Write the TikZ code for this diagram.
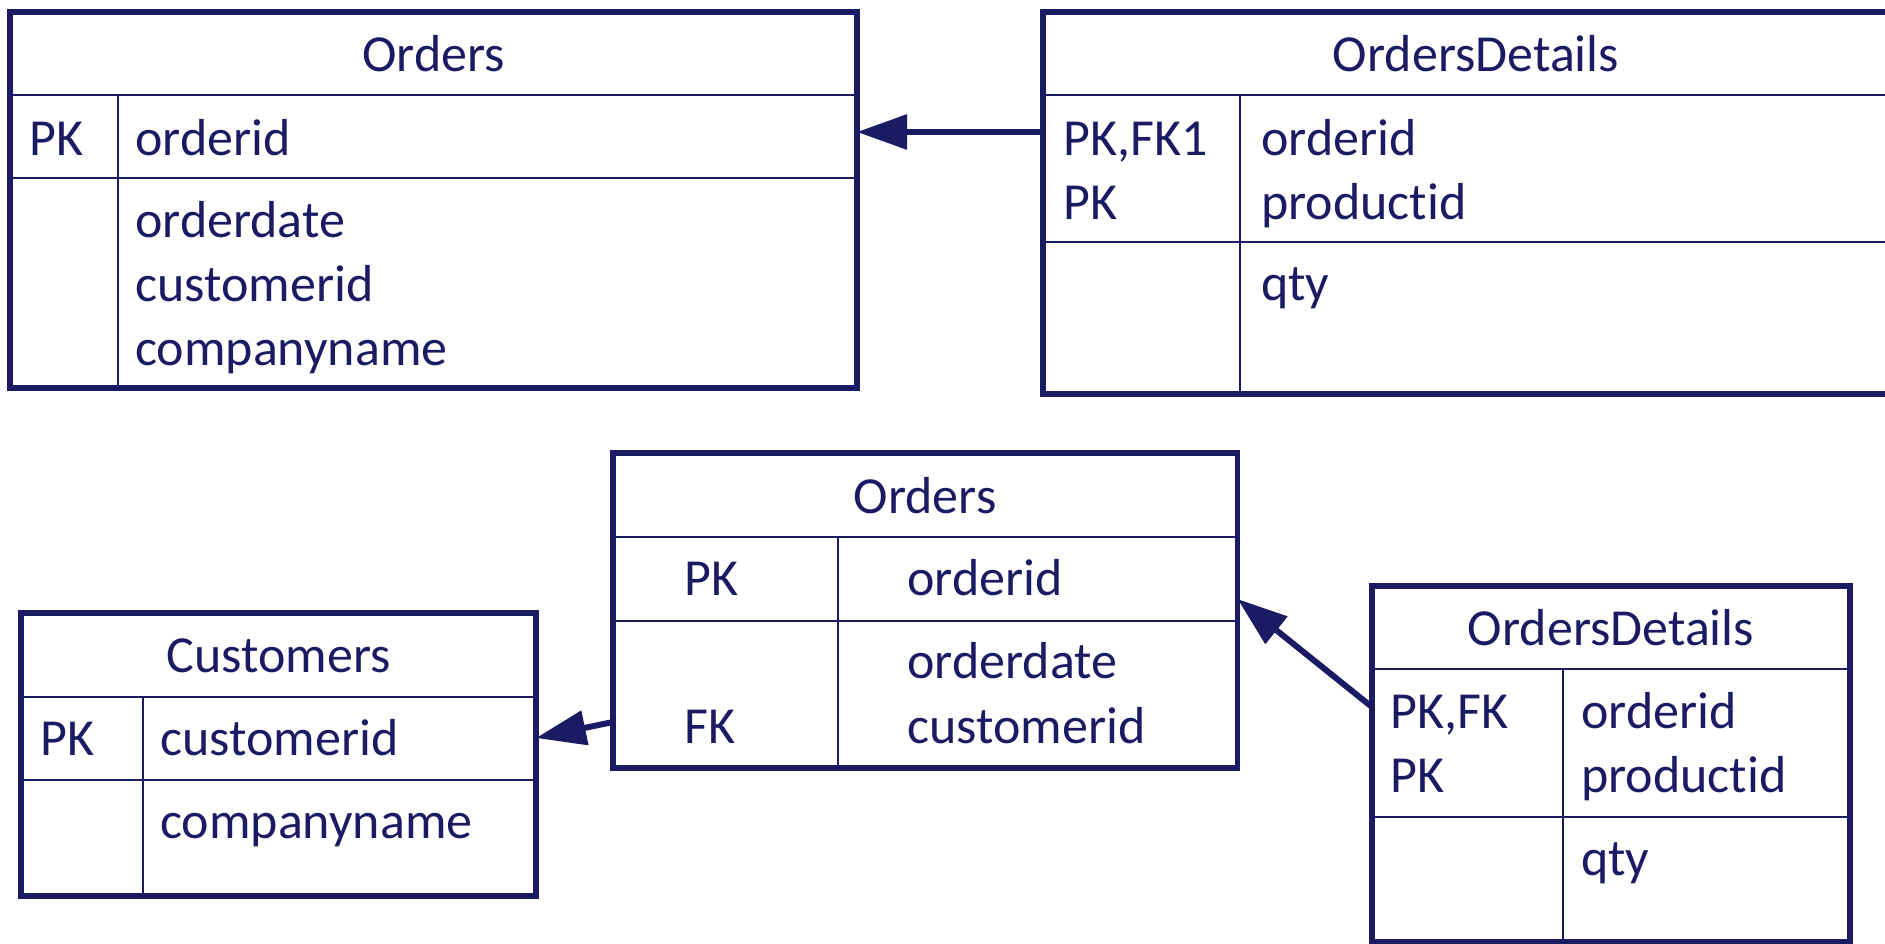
\documentclass[tikz,border=0pt]{standalone}
\usepackage{fontspec}
\setmainfont{Carlito}[Ligatures=NoCommon]
\usetikzlibrary{arrows.meta}
\definecolor{navy}{RGB}{27,27,100}
\tikzset{
entity/.style={draw=navy, line width=5.5pt, inner sep=0pt, outer sep=0pt, anchor=north west}, % outer frame of a table
divider/.style={draw=navy, line width=2.5pt}, % thin lines inside a table
heading/.style={text=navy, inner sep=0pt, anchor=base, font=\fontsize{52}{64}\selectfont}, % table name
field/.style={text=navy, inner sep=0pt, anchor=base west, font=\fontsize{52}{64}\selectfont}, % keys and columns
fk/.style={draw=navy, line width=6pt, -{Triangle[length=50pt, width=34pt]}}, % foreign key reference
}

\begin{document}
\begin{tikzpicture}[x=1pt, y=-1pt]
\useasboundingbox (0, 0) rectangle (1885, 943);

% top: Orders
\node[entity, minimum width=847pt, minimum height=376pt] at (10, 12) (ordA) {};
\draw[divider] (10, 95) -- (857, 95);
\draw[divider] (10, 178) -- (857, 178);
\draw[divider] (118, 95) -- (118, 388);
\node[heading] at (433.5, 71) (ordA-t) {Orders};
\node[field] at (29, 155) (ordA-k1) {PK};
\node[field] at (135, 155) (ordA-f1) {orderid};
\node[field] at (135, 237) (ordA-f2) {orderdate};
\node[field] at (135, 301) (ordA-f3) {customerid};
\node[field] at (135, 365) (ordA-f4) {companyname};

% top: OrdersDetails
\node[entity, minimum width=866pt, minimum height=382pt] at (1043, 12) (detB) {};
\draw[divider] (1043, 95) -- (1909, 95);
\draw[divider] (1043, 242) -- (1909, 242);
\draw[divider] (1240, 95) -- (1240, 394);
\node[heading] at (1476, 71) (detB-t) {OrdersDetails};
\node[field] at (1063, 155) (detB-k1) {PK,FK1};
\node[field] at (1063, 219) (detB-k2) {PK};
\node[field] at (1261, 155) (detB-f1) {orderid};
\node[field] at (1261, 219) (detB-f2) {productid};
\node[field] at (1261, 300) (detB-f3) {qty};

% bottom: Orders
\node[entity, minimum width=624.5pt, minimum height=315pt] at (613, 453) (ordC) {};
\draw[divider] (613, 537) -- (1237.5, 537);
\draw[divider] (613, 621) -- (1237.5, 621);
\draw[divider] (838, 537) -- (838, 768);
\node[heading] at (925, 513) (ordC-t) {Orders};
\node[field] at (684, 595) (ordC-k1) {PK};
\node[field] at (684, 743) (ordC-k2) {FK};
\node[field] at (907, 595) (ordC-f1) {orderid};
\node[field] at (907, 678) (ordC-f2) {orderdate};
\node[field] at (907, 743) (ordC-f3) {customerid};

% bottom: Customers
\node[entity, minimum width=515pt, minimum height=283pt] at (21, 613) (custD) {};
\draw[divider] (21, 697) -- (536, 697);
\draw[divider] (21, 780) -- (536, 780);
\draw[divider] (143, 697) -- (143, 896);
\node[heading] at (278.5, 672) (custD-t) {Customers};
\node[field] at (40, 755) (custD-k1) {PK};
\node[field] at (160, 755) (custD-f1) {customerid};
\node[field] at (160, 838) (custD-f2) {companyname};

% bottom: OrdersDetails
\node[entity, minimum width=478pt, minimum height=356pt] at (1372, 586) (detE) {};
\draw[divider] (1372, 669) -- (1850, 669);
\draw[divider] (1372, 817) -- (1850, 817);
\draw[divider] (1563, 669) -- (1563, 942);
\node[heading] at (1611, 645) (detE-t) {OrdersDetails};
\node[field] at (1390, 728) (detE-k1) {PK,FK};
\node[field] at (1390, 792) (detE-k2) {PK};
\node[field] at (1581, 728) (detE-f1) {orderid};
\node[field] at (1581, 792) (detE-f2) {productid};
\node[field] at (1581, 875) (detE-f3) {qty};

% references
\draw[fk] ([yshift=71pt]detB.west) -- ([yshift=68pt]ordA.east);
\draw[fk] ([yshift=-111.5pt]ordC.west) -- ([yshift=16.5pt]custD.east);
\draw[fk] ([yshift=57pt]detE.west) -- ([yshift=11.5pt]ordC.east);

\end{tikzpicture}
\end{document}
